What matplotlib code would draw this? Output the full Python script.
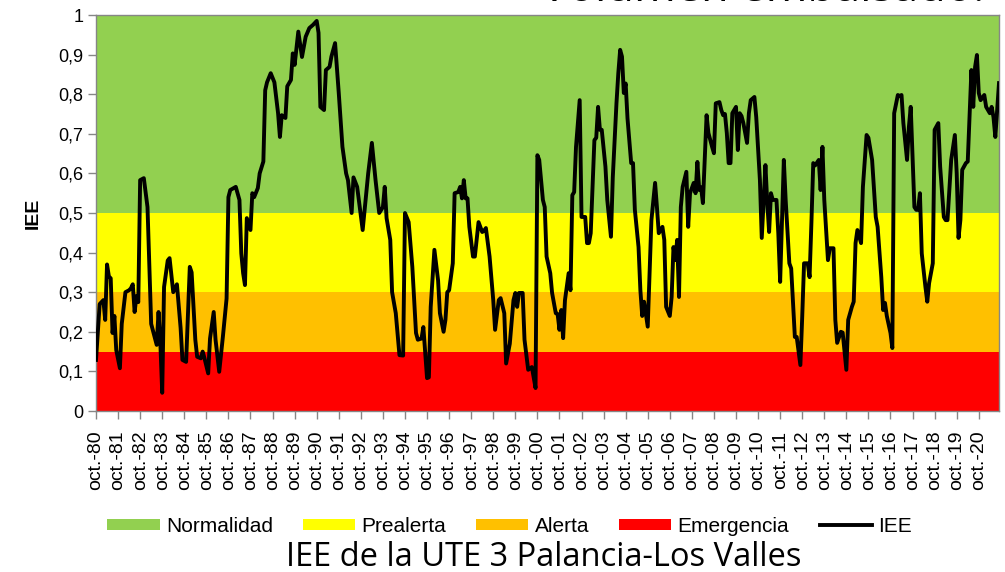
import matplotlib
matplotlib.use("Agg")
import matplotlib.pyplot as plt
from matplotlib.patches import Patch
from matplotlib.lines import Line2D

plt.rcParams['font.family'] = ['Liberation Sans', 'DejaVu Sans']

mes = [0, 2, 4, 5, 6, 7, 8, 9, 10, 11, 13, 14, 16, 18, 19, 20, 21, 22, 23, 24,
       26, 28, 30, 33, 34, 35, 36, 37, 39, 40, 42, 44, 46, 47, 49, 51, 52, 54, 55, 57,
       58, 59, 61, 62, 64, 65, 67, 69, 71, 72, 73, 76, 78, 79, 80, 81, 82, 84, 85, 86,
       88, 89, 91, 92, 93, 95, 97, 99, 100, 101, 103, 104, 106, 107, 108, 110, 112, 114, 116, 118,
       120, 121, 122, 124, 125, 127, 128, 130, 132, 134, 136, 137, 139, 140, 142, 145, 148, 150, 152, 154,
       156, 157, 158, 160, 161, 163, 165, 167, 168, 170, 172, 174, 175, 177, 178, 180, 181, 182, 184, 186,
       187, 189, 190, 191, 192, 194, 195, 197, 198, 199, 200, 201, 202, 203, 205, 206, 208, 210, 211, 212,
       214, 216, 217, 219, 220, 222, 223, 225, 227, 228, 229, 230, 232, 233, 235, 237, 239, 240, 241, 243,
       244, 245, 247, 248, 250, 251, 252, 253, 254, 255, 257, 258, 259, 260, 261, 263, 264, 266, 267, 268,
       269, 271, 272, 273, 274, 275, 277, 278, 280, 281, 283, 284, 285, 286, 287, 288, 289, 291, 292, 293,
       295, 296, 297, 298, 300, 301, 302, 304, 305, 306, 308, 309, 310, 312, 313, 314, 315, 316, 317, 318,
       319, 321, 322, 323, 325, 326, 327, 328, 329, 330, 332, 333, 335, 336, 337, 339, 340, 341, 342, 343,
       344, 345, 346, 348, 349, 350, 351, 352, 354, 355, 356, 358, 359, 361, 362, 364, 365, 366, 367, 368,
       370, 371, 372, 374, 375, 377, 378, 380, 381, 383, 384, 385, 387, 388, 389, 390, 391, 393, 394, 395,
       396, 398, 399, 401, 402, 403, 405, 406, 408, 409, 411, 412, 413, 414, 416, 417, 419, 420, 422, 424,
       425, 427, 428, 429, 430, 432, 433, 434, 436, 437, 438, 439, 441, 442, 443, 445, 446, 447, 448, 449,
       451, 452, 453, 455, 456, 458, 459, 461, 462, 463, 465, 467, 468, 469, 470, 471, 473, 474, 476, 477,
       478, 479, 480, 481, 483, 484, 486, 487, 488, 489, 491]
iee = [0.129, 0.27, 0.28, 0.23, 0.37, 0.34, 0.335, 0.197, 0.24, 0.154, 0.108, 0.22, 0.30, 0.305, 0.31, 0.32, 0.25, 0.29, 0.275, 0.583,
       0.588, 0.515, 0.22, 0.167, 0.25, 0.17, 0.046, 0.313, 0.38, 0.386, 0.30, 0.32, 0.21, 0.129, 0.124, 0.364, 0.35, 0.18, 0.137, 0.133,
       0.15, 0.133, 0.095, 0.183, 0.25, 0.18, 0.099, 0.188, 0.284, 0.54, 0.558, 0.566, 0.533, 0.398, 0.348, 0.318, 0.487, 0.457, 0.55, 0.54,
       0.563, 0.60, 0.63, 0.81, 0.83, 0.853, 0.83, 0.752, 0.692, 0.747, 0.74, 0.82, 0.836, 0.903, 0.874, 0.958, 0.894, 0.945, 0.967, 0.975,
       0.985, 0.955, 0.768, 0.76, 0.861, 0.869, 0.895, 0.929, 0.803, 0.667, 0.60, 0.583, 0.50, 0.59, 0.566, 0.457, 0.60, 0.677, 0.583, 0.50,
       0.515, 0.566, 0.487, 0.432, 0.30, 0.247, 0.141, 0.14, 0.50, 0.477, 0.364, 0.197, 0.18, 0.183, 0.212, 0.083, 0.085, 0.263, 0.407, 0.33,
       0.247, 0.20, 0.23, 0.30, 0.305, 0.373, 0.55, 0.553, 0.566, 0.537, 0.583, 0.537, 0.537, 0.465, 0.39, 0.39, 0.477, 0.452, 0.455, 0.462,
       0.39, 0.28, 0.205, 0.28, 0.285, 0.247, 0.12, 0.17, 0.28, 0.298, 0.263, 0.298, 0.298, 0.18, 0.104, 0.111, 0.058, 0.646, 0.634, 0.533,
       0.515, 0.39, 0.348, 0.298, 0.247, 0.245, 0.205, 0.255, 0.184, 0.28, 0.348, 0.305, 0.545, 0.553, 0.667, 0.785, 0.49, 0.49, 0.424, 0.424,
       0.449, 0.684, 0.69, 0.768, 0.71, 0.71, 0.617, 0.533, 0.44, 0.59, 0.777, 0.853, 0.912, 0.895, 0.803, 0.827, 0.739, 0.626, 0.626, 0.508,
       0.414, 0.305, 0.24, 0.276, 0.213, 0.348, 0.482, 0.576, 0.515, 0.449, 0.465, 0.432, 0.263, 0.24, 0.288, 0.414, 0.381, 0.432, 0.288, 0.515,
       0.566, 0.604, 0.465, 0.55, 0.576, 0.55, 0.629, 0.558, 0.565, 0.525, 0.747, 0.702, 0.667, 0.651, 0.777, 0.78, 0.76, 0.747, 0.75, 0.702,
       0.626, 0.626, 0.752, 0.768, 0.659, 0.752, 0.745, 0.727, 0.677, 0.752, 0.785, 0.793, 0.742, 0.583, 0.437, 0.621, 0.525, 0.452, 0.55, 0.533,
       0.533, 0.449, 0.326, 0.634, 0.533, 0.373, 0.36, 0.187, 0.187, 0.116, 0.238, 0.373, 0.373, 0.338, 0.475, 0.626, 0.62, 0.634, 0.558, 0.667,
       0.533, 0.381, 0.411, 0.411, 0.23, 0.172, 0.2, 0.198, 0.104, 0.23, 0.263, 0.276, 0.424, 0.457, 0.424, 0.566, 0.697, 0.69, 0.634, 0.49,
       0.465, 0.338, 0.255, 0.273, 0.24, 0.197, 0.159, 0.752, 0.798, 0.795, 0.798, 0.727, 0.634, 0.717, 0.768, 0.515, 0.508, 0.508, 0.55, 0.398,
       0.313, 0.276, 0.323, 0.373, 0.71, 0.727, 0.617, 0.49, 0.482, 0.482, 0.634, 0.697, 0.60, 0.437, 0.482, 0.609, 0.626, 0.63, 0.861, 0.768,
       0.869, 0.899, 0.803, 0.785, 0.798, 0.768, 0.752, 0.768, 0.742, 0.692, 0.828]

# umbrales de los estados
estados = ['Normalidad', 'Prealerta', 'Alerta', 'Emergencia']
limites = [(0.5, 1.0), (0.3, 0.5), (0.15, 0.3), (0.0, 0.15)]
colores = ['#92D050', '#FFFF00', '#FFC000', '#FF0000']

anios = ['%02d' % (y % 100) for y in range(1980, 2021)]
etiquetas = ['oct.-' + a for a in anios]

fig = plt.figure(figsize=(10.05, 5.72), dpi=100)
ax = fig.add_axes([96 / 1005, 1 - 411 / 572, 903 / 1005, 396 / 572])

for (lo, hi), c in zip(limites, colores):
    ax.axhspan(lo, hi, color=c, lw=0, zorder=0)

ax.plot(mes, iee, color='black', lw=2.8, zorder=3)

ax.set_xlim(0, 491)
ax.set_ylim(0, 1)
ax.set_xticks([12 * i for i in range(len(etiquetas))])
ax.set_xticklabels(etiquetas, rotation=90, fontsize=14)
ax.set_yticks([i / 10 for i in range(11)])
ax.set_yticklabels(['0'] + ['0,%d' % i for i in range(1, 10)] + ['1'], fontsize=13)
ax.tick_params(axis='both', direction='out', length=6, width=1, color='#868686', pad=3)
ax.tick_params(axis='x', pad=8)
for s in ax.spines.values():
    s.set_color('#868686')
    s.set_linewidth(1)

ax.set_ylabel('IEE', fontsize=14, fontweight='bold', labelpad=12)

handles = [Patch(facecolor=c, edgecolor='none') for c in colores]
handles.append(Line2D([0], [0], color='black', lw=2.8))
fig.legend(handles, estados + ['IEE'], loc='center', bbox_to_anchor=(0.507, 0.080),
           ncol=5, frameon=False, fontsize=15, handlelength=2.5, handleheight=0.45,
           handletextpad=0.3, columnspacing=1.45)

fig.text(544 / 1005, 1 - 557 / 572, 'IEE de la UTE 3 Palancia-Los Valles', ha='center', va='center',
         fontsize=23.5, family='Open Sans')
fig.text(985 / 1005, 1 - 1 / 572, 'Volumen embalsado.', ha='right', va='baseline',
         fontsize=32.5, family='Open Sans')

fig.savefig('out.png', dpi=100)
